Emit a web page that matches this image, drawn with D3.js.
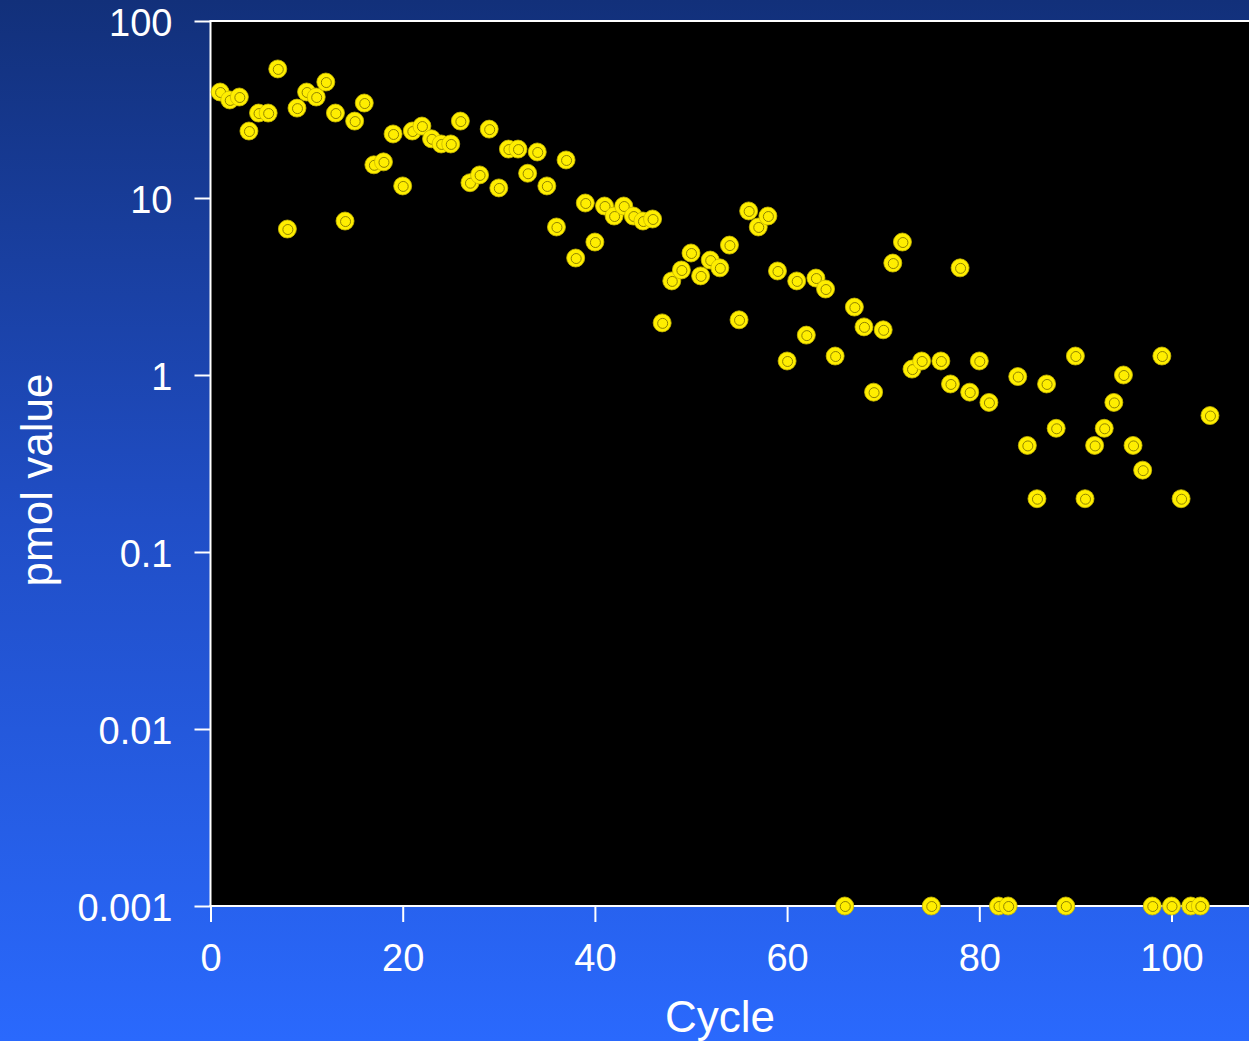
<!DOCTYPE html>
<html lang="en">
  <head>
    <meta charset="utf-8">
    <title>pmol value by cycle</title>
    <script type="text/javascript" src="https://cdn.jsdelivr.net/npm/d3@7"></script>
    <style>
    body {
      margin:0;
      background-color:#1f4cc0;
    }
    text {
      font-family:"Liberation Sans", Arial, sans-serif;
      fill:#ffffff;
    }
    </style>
  </head>
  <body>
    <div id="chart"></div>
    <script type="text/javascript">
// data
const cycles = [1, 2, 3, 4, 5, 6, 7, 8, 9, 10, 11, 12, 13, 14, 15, 16, 17, 18, 19, 20,
  21, 22, 23, 24, 25, 26, 27, 28, 29, 30, 31, 32, 33, 34, 35, 36, 37, 38, 39, 40,
  41, 42, 43, 44, 45, 46, 47, 48, 49, 50, 51, 52, 53, 54, 55, 56, 57, 58, 59, 60,
  61, 62, 63, 64, 65, 66, 67, 68, 69, 70, 71, 72, 73, 74, 75, 76, 77, 78, 79, 80,
  81, 82, 83, 84, 85, 86, 87, 88, 89, 90, 91, 92, 93, 94, 95, 96, 97, 98, 99, 100,
  101, 102, 103, 104];
const pmol = [39.7, 35.8, 37.2, 23.9, 30.2, 30.2, 53.6, 6.68, 32.2, 39.7,
  37.2, 45.2, 30.2, 7.41, 27.2, 34.4, 15.4, 16.0, 23.0, 11.7,
  23.9, 25.5, 21.6, 20.2, 20.2, 27.2, 12.2, 13.5, 24.5, 11.4,
  18.9, 18.9, 13.8, 18.2, 11.7, 6.86, 16.4, 4.58, 9.37, 5.64,
  9.01, 7.91, 9.01, 7.91, 7.41, 7.61, 1.97, 3.40, 3.92, 4.89,
  3.63, 4.46, 4.03, 5.42, 2.05, 8.45, 6.86, 7.91, 3.87, 1.20,
  3.40, 1.68, 3.53, 3.06, 1.28, 0.001, 2.42, 1.87, 0.80, 1.80,
  4.29, 5.64, 1.08, 1.20, 0.001, 1.20, 0.89, 4.03, 0.80, 1.20,
  0.70, 0.001, 0.001, 0.98, 0.40, 0.20, 0.89, 0.50, 0.001, 1.28,
  0.20, 0.40, 0.50, 0.70, 1.0, 0.40, 0.29, 0.001, 1.28, 0.001,
  0.20, 0.001, 0.001, 0.59];
const yTicks = [0.001, 0.01, 0.1, 1, 10, 100];
const yTickLabels = ["0.001", "0.01", "0.1", "1", "10", "100"];
const xTicks = [0, 20, 40, 60, 80, 100];

const width = 1249, height = 1041;
const svg = d3.select("#chart").append("svg").attr("width", width).attr("height", height);

// 背景のグラデーション
const grad = svg.append("defs").append("linearGradient").attr("id", "bg")
  .attr("x1", 0).attr("y1", 0).attr("x2", 0).attr("y2", 1);
grad.append("stop").attr("offset", "0").attr("stop-color", "#12307a");
grad.append("stop").attr("offset", "0.5").attr("stop-color", "#204ec6");
grad.append("stop").attr("offset", "1").attr("stop-color", "#2a69fd");
svg.append("rect").attr("width", width).attr("height", height).attr("fill", "url(#bg)");

const xScale = d3.scaleLinear().domain([0, 108]).range([210.5, 210.5 + 108 * 9.61]);
const yScale = d3.scaleLog().domain([0.001, 100]).range([906, 21]);

// plot area
svg.append("rect").attr("fill", "#000000")
  .attr("x", xScale(0)).attr("width", width - xScale(0))
  .attr("y", yScale(100)).attr("height", yScale(0.001) - yScale(100));
svg.append("line").attr("stroke", "#ffffff").attr("stroke-width", 2)
  .attr("x1", xScale(0) - 1).attr("x2", width)
  .attr("y1", yScale(100)).attr("y2", yScale(100));

// axes
const yAxis = svg.append("g").attr("transform", `translate(${xScale(0)},0)`)
  .call(d3.axisLeft(yScale).tickValues(yTicks).tickSize(16).tickPadding(22)
    .tickFormat((d, i) => yTickLabels[i]));
const xAxis = svg.append("g").attr("transform", `translate(0,${yScale(0.001)})`)
  .call(d3.axisBottom(xScale).tickValues(xTicks).tickSize(16).tickPadding(22).tickSizeOuter(0));
[yAxis, xAxis].forEach(ax => {
  ax.select(".domain").attr("stroke", "#ffffff").attr("stroke-width", 2);
  ax.selectAll(".tick line").attr("stroke", "#ffffff").attr("stroke-width", 2);
  ax.selectAll(".tick text").attr("fill", "#ffffff").attr("font-size", "38px")
    .attr("font-family", "Liberation Sans, Arial, sans-serif");
});
yAxis.select(".domain").attr("d", `M0,${yScale(100)}V${yScale(0.001)}`);
yAxis.selectAll(".tick text").attr("dy", "0.38em");
xAxis.select(".domain").attr("d", `M${xScale(0) - 1},0H${width}`);
xAxis.selectAll(".tick text").attr("dy", "0.71em");

// points
const pts = svg.append("g").selectAll("g").data(cycles.map((c, i) => [c, pmol[i]])).join("g")
  .attr("transform", d => `translate(${xScale(d[0])},${yScale(d[1])})`);
pts.append("circle").attr("r", 9).attr("fill", "#ffee00").attr("stroke", "#c9b900").attr("stroke-width", 0.8);
pts.append("circle").attr("cx", 0.5).attr("cy", 0.5).attr("r", 5)
  .attr("fill", "none").attr("stroke", "#857800").attr("stroke-width", 0.9);

// axis titles
svg.append("text").attr("x", 720).attr("y", 1032).attr("text-anchor", "middle")
  .attr("font-size", "44px").text("Cycle");
svg.append("text").attr("transform", "translate(52,480) rotate(-90)").attr("text-anchor", "middle")
  .attr("font-size", "44px").text("pmol value");
    </script>
  </body>
</html>
